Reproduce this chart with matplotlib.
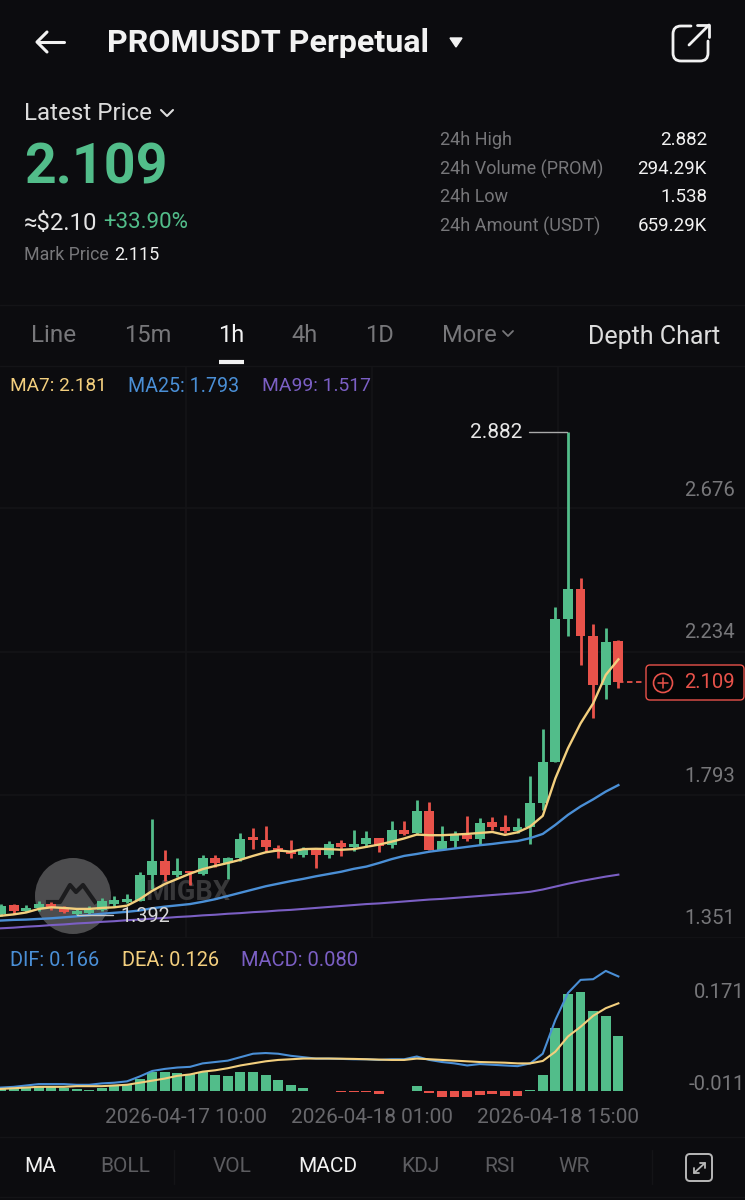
import matplotlib
matplotlib.use('Agg')
import matplotlib.pyplot as plt
from matplotlib.patches import Circle, FancyBboxPatch, PathPatch, Polygon
from matplotlib.path import Path

plt.rcParams['font.family'] = ['Roboto', 'DejaVu Sans']

# hourly candles
opens = [1.392,1.420,1.402,1.411,1.423,1.411,1.392,1.395,1.405,1.424,
         1.429,1.434,1.514,1.555,1.512,1.526,1.517,1.566,1.550,1.565,
         1.630,1.622,1.597,1.588,1.576,1.589,1.575,1.611,1.599,1.609,
         1.626,1.605,1.653,1.642,1.710,1.591,1.619,1.637,1.625,1.676,
         1.662,1.649,1.660,1.735,1.861,2.306,2.399,2.253,2.100,2.237]
highs = [1.424,1.424,1.420,1.431,1.428,1.418,1.408,1.418,1.442,1.447,
         1.455,1.521,1.686,1.589,1.564,1.526,1.575,1.576,1.568,1.642,
         1.658,1.663,1.606,1.622,1.601,1.591,1.619,1.622,1.651,1.649,
         1.626,1.681,1.681,1.745,1.739,1.663,1.649,1.696,1.689,1.692,
         1.699,1.689,1.820,1.965,2.343,2.882,2.433,2.289,2.276,2.240]
lows = [1.387,1.393,1.398,1.403,1.405,1.395,1.387,1.390,1.400,1.418,
        1.426,1.431,1.469,1.493,1.506,1.482,1.514,1.537,1.502,1.555,
        1.593,1.585,1.564,1.566,1.570,1.534,1.564,1.572,1.586,1.599,
        1.583,1.595,1.638,1.637,1.591,1.591,1.597,1.617,1.607,1.651,
        1.644,1.644,1.609,1.714,1.861,2.252,2.163,1.998,2.057,2.092]
closes = [1.418,1.402,1.412,1.424,1.411,1.397,1.400,1.405,1.434,1.435,
          1.440,1.514,1.555,1.512,1.526,1.520,1.564,1.550,1.566,1.624,
          1.622,1.598,1.585,1.577,1.591,1.575,1.610,1.599,1.610,1.626,
          1.603,1.653,1.640,1.710,1.591,1.619,1.640,1.624,1.675,1.661,
          1.648,1.660,1.735,1.861,2.306,2.399,2.253,2.100,2.235,2.109]

ma7 = [1.387,1.391,1.397,1.408,1.413,1.411,1.408,1.408,1.411,1.413,
       1.418,1.438,1.464,1.485,1.501,1.517,1.531,1.541,1.550,1.560,
       1.572,1.583,1.589,1.585,1.593,1.594,1.593,1.591,1.593,1.600,
       1.607,1.616,1.626,1.638,1.636,1.636,1.638,1.640,1.643,1.646,
       1.637,1.645,1.663,1.696,1.812,1.905,1.982,2.044,2.132,2.180]
ma25 = [1.372,1.374,1.375,1.377,1.379,1.382,1.385,1.389,1.393,1.396,
        1.399,1.403,1.410,1.415,1.419,1.423,1.430,1.438,1.448,1.458,
        1.468,1.478,1.486,1.494,1.501,1.509,1.516,1.523,1.532,1.539,
        1.550,1.562,1.572,1.578,1.585,1.590,1.595,1.600,1.605,1.609,
        1.614,1.618,1.627,1.640,1.668,1.699,1.725,1.747,1.771,1.791]
ma99 = [1.348,1.350,1.353,1.355,1.358,1.360,1.363,1.365,1.368,1.370,
        1.373,1.375,1.378,1.380,1.383,1.385,1.388,1.390,1.393,1.395,
        1.398,1.400,1.403,1.405,1.408,1.411,1.414,1.417,1.420,1.423,
        1.425,1.428,1.431,1.434,1.437,1.439,1.442,1.445,1.448,1.451,
        1.454,1.457,1.461,1.468,1.477,1.486,1.494,1.501,1.508,1.514]

dif = [.005,.006,.008,.010,.010,.010,.009,.009,.011,.012,
       .014,.021,.029,.032,.034,.035,.040,.042,.044,.049,
       .054,.055,.054,.051,.049,.047,.047,.0465,.046,.046,
       .045,.046,.046,.050,.045,.042,.040,.037,.039,.038,
       .037,.036,.040,.054,.103,.142,.161,.162,.174,.166]
dea = [.003,.004,.005,.006,.006,.006,.007,.007,.007,.008,
       .009,.012,.015,.018,.022,.024,.028,.030,.033,.037,
       .040,.043,.045,.046,.047,.047,.047,.0468,.0465,.046,
       .0455,.045,.045,.047,.046,.045,.044,.043,.042,.0415,
       .041,.040,.040,.0435,.057,.079,.093,.109,.120,.127]
macd = [.003,.003,.004,.007,.007,.005,.003,.001,.005,.007,
        .008,.017,.028,.027,.026,.024,.027,.023,.022,.027,
        .028,.023,.016,.009,.005,0.0,-.0005,-.002,-.002,-.002,
        -.004,-.0005,-.0005,.007,-.003,-.009,-.009,-.012,-.006,-.005,
        -.007,-.007,.002,.023,.091,.140,.143,.116,.109,.080]

price_grid = [2.647,2.202,1.760,1.318]
time_grid = [14.68,29.44,44.2]
time_labels = ['2026-04-17 10:00','2026-04-18 01:00','2026-04-18 15:00']
price_labels = ['2.676','2.234','1.793','1.351']
macd_labels = ['0.171','-0.011']

BG = '#0c0c0f'
GREEN = '#52bd8a'
RED = '#e8524a'
YELLOW = '#f3cf7e'
BLUE = '#4a8fd6'
PURPLE = '#7b5fc4'
GRID = '#141417'
GREY = '#77777a'
DIM = '#5c5c60'
WHITE = '#f2f2f2'
W = 745.0
H = 1200.0


def panel(top, bottom):
    return fig.add_axes([0, 1 - bottom / H, 1, (bottom - top) / H])


fig = plt.figure(figsize=(7.45, 12), dpi=100, facecolor=BG)

xs = list(range(len(closes)))
xlim = (-0.08, 59.05)

# price panel
ax = panel(366, 938)
ax.set_facecolor(BG)
ax.set_xlim(xlim)
ax.set_ylim(1.3189, 3.0876)
ax.set_xticks(time_grid)
ax.set_yticks(price_grid)
ax.grid(color=GRID, lw=1.2)
ax.set_axisbelow(True)
ax.tick_params(length=0, labelbottom=False, labelleft=False)
for s in ax.spines.values():
    s.set_visible(False)

# macd panel
ax2 = panel(940, 1097)
ax2.set_facecolor('none')
ax2.set_xlim(xlim)
ax2.set_ylim(-0.0087, 0.2188)
ax2.set_xticks(time_grid)
ax2.set_xticklabels(time_labels, color='#68686c', fontsize=15)
ax2.tick_params(length=0, pad=8, labelleft=False)
ax2.set_yticks([])
for s in ax2.spines.values():
    s.set_visible(False)

# everything else lives on a pixel overlay
ov = fig.add_axes([0, 0, 1, 1], facecolor='none')
ov.set_xlim(0, W)
ov.set_ylim(H, 0)
ov.axis('off')

# watermark sits under the candles
ax.add_patch(Circle((73, 896), 38, fc='#4c4c4e', ec='none', transform=ov.transData, zorder=1))
ax.plot([48, 60, 70, 76, 83, 95], [902, 902, 885, 892, 885, 902], color='#1c1c1e', lw=3,
        transform=ov.transData, zorder=1)
ax.text(145, 893, 'MIGBX', color='#38383a', fontsize=19.5, fontweight='bold', ha='left',
        va='center', transform=ov.transData, zorder=1)

ups = [c >= o for o, c in zip(opens, closes)]
cols = [GREEN if u else RED for u in ups]
ax.vlines(xs, lows, highs, colors=cols, lw=2, zorder=3)
bottoms = [min(o, c) for o, c in zip(opens, closes)]
heights = [abs(c - o) for o, c in zip(opens, closes)]
ax.bar(xs, heights, bottom=bottoms, width=0.78, color=cols, zorder=3)
ax.plot(xs, ma99, color=PURPLE, lw=1.5, zorder=4)
ax.plot(xs, ma25, color=BLUE, lw=1.7, zorder=4)
ax.plot(xs, ma7, color=YELLOW, lw=1.7, zorder=5)
ax.plot([xs[-1], 51.1], [closes[-1], closes[-1]], color=RED, lw=1.3, ls=(0, (3, 2)), zorder=3)

ax2.bar(xs, macd, width=0.78, color=[GREEN if v >= 0 else RED for v in macd], zorder=3)
ax2.plot(xs, dif, color=BLUE, lw=1.5, zorder=4)
ax2.plot(xs, dea, color=YELLOW, lw=1.5, zorder=5)


def t(x, y, s, color=WHITE, size=13, ha='left', weight='normal'):
    return ov.text(x, y, s, color=color, fontsize=size, ha=ha, va='center', fontweight=weight)


def line(px, py, color=WHITE, lw=2):
    ov.plot(px, py, color=color, lw=lw, solid_capstyle='round', solid_joinstyle='round')


# header
line([38, 64], [42, 42], lw=2.2)
line([47, 37, 47], [32, 42, 52], lw=2.2)
t(107, 43, 'PROMUSDT Perpetual', size=23.2, weight='bold')
ov.add_patch(Polygon([[450, 38], [462, 38], [456, 47]], color=WHITE))
share = Path([(691, 26), (681, 26), (673, 26), (673, 34), (673, 53), (673, 61), (681, 61),
              (700, 61), (708, 61), (708, 53), (708, 41)],
             [Path.MOVETO, Path.LINETO, Path.CURVE3, Path.CURVE3, Path.LINETO, Path.CURVE3,
              Path.CURVE3, Path.LINETO, Path.CURVE3, Path.CURVE3, Path.LINETO])
ov.add_patch(PathPatch(share, fc='none', ec=WHITE, lw=2, capstyle='round'))
line([689, 709], [45, 25], lw=2)
line([697, 709, 709], [25, 25, 37], lw=2)

t(24, 114, 'Latest Price', color='#dddddd', size=17.4)
line([161, 167, 173], [110, 116, 110], color='#dddddd', lw=1.5)
t(24, 168, '2.109', color=GREEN, size=40, weight='bold')
t(24, 223, '≈$2.10', color='#e4e4e4', size=17.2)
t(103, 223, '+33.90%', color=GREEN, size=16)
t(24, 255, 'Mark Price', color=GREY, size=12.8)
t(114, 255, '2.115', color=WHITE, size=13)

t(440, 140, '24h High', color=GREY, size=13)
t(440, 169, '24h Volume (PROM)', color=GREY, size=13)
t(440, 197, '24h Low', color=GREY, size=13)
t(440, 226, '24h Amount (USDT)', color=GREY, size=13)
t(707, 140, '2.882', size=13.5, ha='right')
t(707, 169, '294.29K', size=13.5, ha='right')
t(707, 197, '1.538', size=13.5, ha='right')
t(707, 226, '659.29K', size=13.5, ha='right')
line([0, W], [305, 305], color=GRID, lw=1)

# interval tabs
t(31, 335, 'Line', color=GREY, size=17.5)
t(124, 335, '15m', color=GREY, size=17)
t(218, 335, '1h', color=WHITE, size=17)
t(291, 335, '4h', color=GREY, size=17)
t(365, 335, '1D', color=GREY, size=17)
t(442, 335, 'More', color=GREY, size=17)
line([503, 508, 513], [331, 336, 331], color=GREY, lw=1.3)
t(588, 337, 'Depth Chart', color='#dddddd', size=18)
ov.plot([219, 244], [362, 362], color=WHITE, lw=3, solid_capstyle='butt')
line([0, W], [366, 366], color=GRID, lw=1)

# legends
t(10, 386, 'MA7: 2.181', color=YELLOW, size=13.7)
t(128, 386, 'MA25: 1.793', color=BLUE, size=14.1)
t(262, 386, 'MA99: 1.517', color=PURPLE, size=13.9)
t(10, 961, 'DIF: 0.166', color=BLUE, size=14.4)
t(122, 961, 'DEA: 0.126', color=YELLOW, size=14.4)
t(241, 961, 'MACD: 0.080', color=PURPLE, size=14.5)

# axis labels
for y, s in zip([490, 632, 776, 919], price_labels):
    t(735, y, s, color=GREY, size=14.6, ha='right')
for y, s in zip([992, 1084], macd_labels):
    t(745, y, s, color=GREY, size=14.6, ha='right')

# high / low callouts
t(470, 432, '2.882', color='#e6e6e6', size=15)
line([529, 567], [432, 432], color='#aaaaaa', lw=1)
t(120, 916, '1.392', color='#d8d8d8', size=14.2)
line([77, 113], [915, 915], color='#c8c8c8', lw=1)

# last price tag
ov.add_patch(FancyBboxPatch((646, 665), 98, 35, boxstyle='round,pad=0,rounding_size=4',
                            fc='#050506', ec=RED, lw=1))
ov.add_patch(Circle((663, 683), 9.5, fc='none', ec=RED, lw=1.2))
line([658, 668], [683, 683], color=RED, lw=1.1)
line([663, 663], [678, 688], color=RED, lw=1.1)
t(735, 683, '2.109', color=RED, size=14.6, ha='right')

# bottom tabs
line([0, W], [1137, 1137], color=GRID, lw=1)
line([0, W], [1197, 1197], color=GRID, lw=1)
t(24, 1167, 'MA', color=WHITE, size=15)
t(100, 1167, 'BOLL', color=DIM, size=15)
line([174, 174], [1150, 1184], color=GRID, lw=1)
t(213, 1167, 'VOL', color=DIM, size=15)
t(298, 1167, 'MACD', color=WHITE, size=15)
t(401, 1167, 'KDJ', color=DIM, size=15)
t(484, 1167, 'RSI', color=DIM, size=15)
t(558, 1167, 'WR', color=DIM, size=15)
line([652, 652], [1150, 1184], color=GRID, lw=1)
ov.add_patch(FancyBboxPatch((686, 1154), 26, 27, boxstyle='round,pad=0,rounding_size=4',
                            fc='none', ec='#b8b8b8', lw=1.4))
line([694, 705], [1173, 1163], color='#b8b8b8', lw=1.3)
line([700, 705, 705], [1163, 1163, 1168], color='#b8b8b8', lw=1.3)
line([694, 694, 699], [1168, 1173, 1173], color='#b8b8b8', lw=1.3)

fig.savefig('out.png', dpi=100, facecolor=BG)
